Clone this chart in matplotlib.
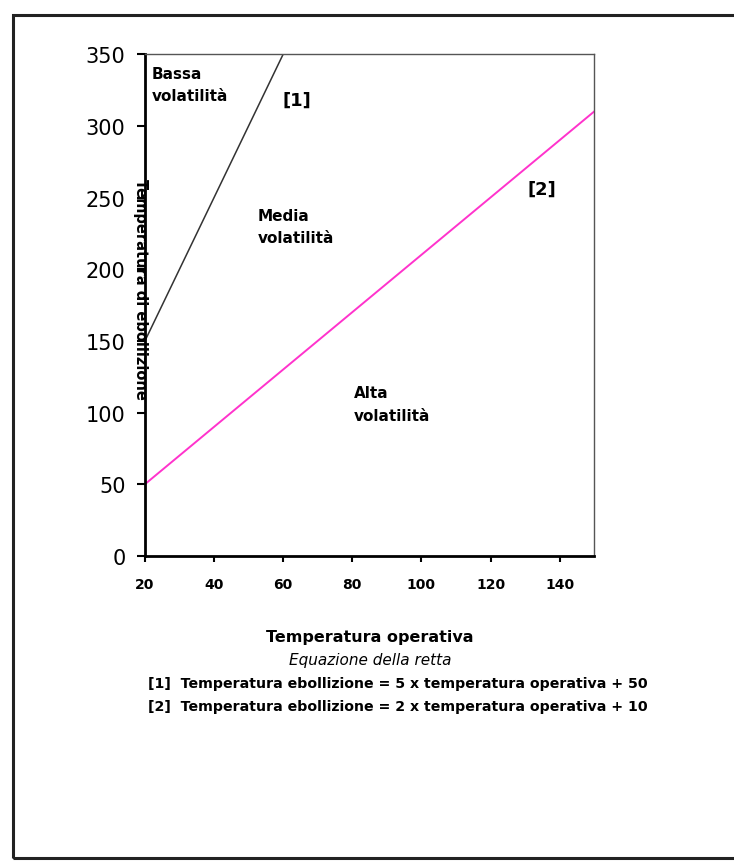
import numpy as np
import matplotlib.pyplot as plt
from matplotlib.patches import Rectangle

plt.rcParams['font.family'] = ['DejaVu Sans']

# Data: operating temperature range and the two boundary lines
temp_op = [20, 150]
slope_1, intercept_1 = 5, 50    # line [1]
slope_2, intercept_2 = 2, 10    # line [2]
x_ticks = [20, 40, 60, 80, 100, 120, 140]
y_ticks = [0, 50, 100, 150, 200, 250, 300, 350]

x = np.array(temp_op, dtype=float)
y1 = slope_1 * x + intercept_1
y2 = slope_2 * x + intercept_2

fig = plt.figure(figsize=(7.34, 8.62), dpi=100)
ax = fig.add_axes([0.1975, 0.354, 0.612, 0.582])

ax.plot(x, y1, color='#333333', lw=1.1)
ax.plot(x, y2, color='#ff33cc', lw=1.4)

ax.set_xlim(20, 150)
ax.set_ylim(0, 350)
ax.set_xticks(x_ticks)
ax.set_yticks(y_ticks)
ax.tick_params(axis='x', labelsize=10, length=4, width=1.5, pad=11)
ax.tick_params(axis='y', labelsize=15, length=6, width=1.5, pad=8)
for lab in ax.get_xticklabels():
    lab.set_fontweight('bold')

ax.spines['left'].set_linewidth(2)
ax.spines['bottom'].set_linewidth(2)
ax.spines['top'].set_linewidth(1)
ax.spines['right'].set_linewidth(1)
ax.spines['top'].set_color('#555555')
ax.spines['right'].set_color('#555555')

# region labels
kw = dict(fontsize=11, fontweight='bold', va='top', ha='left', linespacing=1.65)
ax.text(22, 342, 'Bassa\nvolatilità', **kw)
ax.text(52.5, 243, 'Media\nvolatilità', **kw)
ax.text(80.5, 119, 'Alta\nvolatilità', **kw)
ax.text(64, 318, '[1]', fontsize=13, fontweight='bold', ha='center', va='center')
ax.text(135, 256, '[2]', fontsize=13, fontweight='bold', ha='center', va='center')

ax.set_ylabel('Temperatura di ebollizione', fontsize=10.5, fontweight='bold',
              rotation=270, va='center')
ax.yaxis.set_label_coords(-0.011, 0.534)

# footer text
fig.text(0.504, 0.261, 'Temperatura operativa', fontsize=11.5, fontweight='bold',
         ha='center', va='center')
fig.text(0.504, 0.234, 'Equazione della retta', fontsize=11, style='italic',
         ha='center', va='center')
fig.text(0.202, 0.207, '[1]  Temperatura ebollizione = 5 x temperatura operativa + 50',
         fontsize=10.2, fontweight='bold', ha='left', va='center')
fig.text(0.202, 0.180, '[2]  Temperatura ebollizione = 2 x temperatura operativa + 10',
         fontsize=10.2, fontweight='bold', ha='left', va='center')

# outer frame
fig.patches.append(Rectangle((13 / 734, 3 / 862), 1.0, 843 / 862,
                             transform=fig.transFigure, fill=False,
                             edgecolor='#222222', lw=2.2, clip_on=False))

fig.savefig('out.png', dpi=100)
